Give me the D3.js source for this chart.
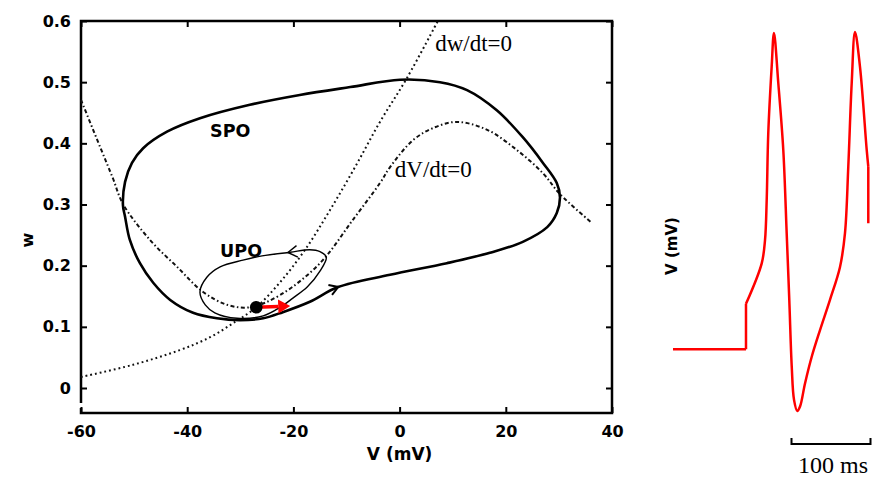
<!DOCTYPE html>
<html>
<head>
<meta charset="utf-8">
<script src="https://cdn.jsdelivr.net/npm/d3@7"></script>
<style>
  body { margin: 0; background: #fff; }
  svg { display: block; }
</style>
</head>
<body>
<div id="chart"></div>
<script>
// axis ticks of the phase plane
const vTicks = [-60, -40, -20, 0, 20, 40];
const wTicks = [0, 0.1, 0.2, 0.3, 0.4, 0.5, 0.6];

// stable periodic orbit, [V (mV), w]
const spo = [
  [-52.1, 0.299], [-51.7, 0.337], [-50.4, 0.368], [-48.3, 0.392], [-43.8, 0.419],
  [-37.6, 0.441], [-28.2, 0.463], [-18.8, 0.479], [-9.3, 0.492], [0.1, 0.504],
  [7.6, 0.500], [12.7, 0.487], [18.3, 0.454], [23.2, 0.410], [27.0, 0.368],
  [29.6, 0.335], [30.2, 0.312], [29.6, 0.286], [27.8, 0.263], [23.2, 0.239],
  [17.0, 0.221], [8.9, 0.204], [-1.8, 0.185], [-11.6, 0.165], [-16.9, 0.141],
  [-22.0, 0.124], [-25.7, 0.114], [-30.1, 0.111], [-34.4, 0.114], [-38.9, 0.123],
  [-43.2, 0.144], [-46.4, 0.172], [-48.9, 0.204], [-50.8, 0.242], [-51.7, 0.280]
];

// unstable periodic orbit, [V (mV), w]
const upo = [
  [-13.8, 0.214], [-15.0, 0.223], [-16.9, 0.226], [-20.6, 0.222], [-25.9, 0.216],
  [-29.5, 0.209], [-33.8, 0.198], [-36.3, 0.181], [-37.6, 0.157], [-36.6, 0.136],
  [-34.8, 0.123], [-30.6, 0.114], [-25.7, 0.118], [-22.5, 0.132], [-20.1, 0.147],
  [-17.4, 0.165], [-15.0, 0.191]
];

// dV/dt = 0 nullcline
const vNullcline = [
  [-60.0, 0.471], [-56.4, 0.394], [-54.0, 0.343], [-52.1, 0.301], [-47.0, 0.242],
  [-41.9, 0.198], [-37.0, 0.157], [-32.5, 0.136], [-28.2, 0.132], [-22.5, 0.152],
  [-15.0, 0.204], [-8.8, 0.275], [-3.7, 0.335], [-1.8, 0.361], [2.5, 0.405],
  [6.3, 0.425], [10.8, 0.435], [16.5, 0.422], [22.1, 0.389], [27.0, 0.351],
  [30.2, 0.317], [36.2, 0.270]
];

// dw/dt = 0 nullcline
const wNullcline = [
  [-60.0, 0.018], [-50.2, 0.038], [-41.4, 0.062], [-35.7, 0.083], [-31.0, 0.108],
  [-27.0, 0.132], [-22.5, 0.173], [-17.8, 0.226], [-13.1, 0.291], [-8.4, 0.361],
  [-3.7, 0.435], [1.4, 0.507], [7.2, 0.600]
];

const restPoint = [-27.0, 0.132];
const kickTip = [-20.6, 0.134];

// voltage trace, [t (ms), V]
const trace = [
  [0, -36.1], [92.4, -36.1], [92.4, -25.9], [112.3, -16.8], [116.5, -11.5],
  [118.6, -2.6], [120.6, 12.5], [124.9, 27.4], [127.8, 35.0], [133.3, 23.7],
  [139.6, 8.7], [143.9, -10.0], [147.2, -25.0], [150.3, -40.0], [153.2, -47.5],
  [157.3, -50.0], [160.8, -49.0], [167.1, -43.8], [175.6, -37.8], [186.1, -31.8],
  [198.7, -25.0], [211.4, -17.6], [217.7, -10.0], [221.9, 5.0], [226.2, 23.7],
  [230.4, 35.2], [236.7, 27.4], [245.2, 8.7], [247.2, 5.0], [247.2, -7.8]
];
// indices where the trace has a sharp corner (current step, end of record)
const traceCorners = [1, 2, 28];
const scaleBar = [150, 250];

const width = 878, height = 479;
const x = d3.scaleLinear().domain([-60, 40]).range([81, 612]);
const y = d3.scaleLinear().domain([0, 0.6]).range([388, 21]);
const frameBottom = 413;

const tx = d3.scaleLinear().domain([0, 250]).range([673, 870.5]);
const ty = d3.scaleLinear().domain([-50, 35]).range([411, 33]);

const boldFont = "'DejaVu Sans', sans-serif";
const serifFont = "'Liberation Serif', 'DejaVu Serif', serif";

const svg = d3.select("#chart")
  .append("svg")
  .attr("width", width)
  .attr("height", height);

// axes, ticks pointing inwards
const styleAxis = g => {
  g.select(".domain").remove();
  g.selectAll(".tick line").attr("stroke", "#000").attr("stroke-width", 2);
  g.selectAll(".tick text")
    .attr("fill", "#000")
    .attr("font-family", boldFont)
    .attr("font-weight", "bold")
    .attr("font-size", 16);
};

svg.append("g")
  .attr("transform", `translate(0,${frameBottom})`)
  .call(d3.axisBottom(x).tickValues(vTicks).tickSizeInner(-6).tickSizeOuter(0)
    .tickPadding(13).tickFormat(d => String(d)))
  .call(styleAxis);

svg.append("g")
  .attr("transform", `translate(0,${y(0.6)})`)
  .call(d3.axisTop(x).tickValues(vTicks).tickSizeInner(-6).tickSizeOuter(0).tickFormat(""))
  .call(styleAxis);

svg.append("g")
  .attr("transform", `translate(${x(-60)},0)`)
  .call(d3.axisLeft(y).tickValues(wTicks).tickSizeInner(-6).tickSizeOuter(0)
    .tickPadding(10).tickFormat(d => d === 0 ? "0" : d3.format(".1f")(d)))
  .call(styleAxis);

svg.append("g")
  .attr("transform", `translate(${x(40)},0)`)
  .call(d3.axisRight(y).tickValues(wTicks).tickSizeInner(-6).tickSizeOuter(0).tickFormat(""))
  .call(styleAxis);

// frame (left side has a small break near the corner, like the scan)
const frame = d3.path();
frame.moveTo(x(-60), frameBottom - 10);
frame.lineTo(x(-60), y(0.6));
frame.lineTo(x(40), y(0.6));
frame.lineTo(x(40), frameBottom);
frame.lineTo(x(-60), frameBottom);
frame.lineTo(x(-60), frameBottom - 5);
svg.append("path")
  .attr("d", frame.toString())
  .attr("fill", "none")
  .attr("stroke", "#000")
  .attr("stroke-width", 2.5);

// axis titles (the V label sits under the 0 tick in the original)
svg.append("text")
  .attr("x", x(0))
  .attr("y", 460)
  .attr("text-anchor", "middle")
  .attr("font-family", boldFont)
  .attr("font-weight", "bold")
  .attr("font-size", 17)
  .text("V (mV)");

svg.append("text")
  .attr("transform", "translate(33,240) rotate(-90)")
  .attr("text-anchor", "middle")
  .attr("font-family", boldFont)
  .attr("font-weight", "bold")
  .attr("font-size", 16)
  .text("w");

// nullclines
const openLine = d3.line()
  .x(d => x(d[0]))
  .y(d => y(d[1]))
  .curve(d3.curveCatmullRom.alpha(0.5));

svg.append("path")
  .attr("d", openLine(vNullcline))
  .attr("fill", "none")
  .attr("stroke", "#111")
  .attr("stroke-width", 2)
  .attr("stroke-dasharray", "4,2.5,1.5,2.5");

svg.append("path")
  .attr("d", openLine(wNullcline))
  .attr("fill", "none")
  .attr("stroke", "#111")
  .attr("stroke-width", 2)
  .attr("stroke-dasharray", "1.8,3");

// periodic orbits
const closedLine = d3.line()
  .x(d => x(d[0]))
  .y(d => y(d[1]))
  .curve(d3.curveCatmullRomClosed.alpha(0.5));

const spoPath = svg.append("path")
  .attr("d", closedLine(spo))
  .attr("fill", "none")
  .attr("stroke", "#000")
  .attr("stroke-width", 2.6);

const upoPath = svg.append("path")
  .attr("d", closedLine(upo))
  .attr("fill", "none")
  .attr("stroke", "#000")
  .attr("stroke-width", 1.4);

// open arrow head sitting on a path, near a point given in data units
function chevron(pathSel, target, dir, len, width) {
  const node = pathSel.node();
  const total = node.getTotalLength();
  const tp = [x(target[0]), y(target[1])];
  let best = 0, bestD = Infinity;
  for (let l = 0; l <= total; l += 0.5) {
    const p = node.getPointAtLength(l);
    const d = (p.x - tp[0]) ** 2 + (p.y - tp[1]) ** 2;
    if (d < bestD) { bestD = d; best = l; }
  }
  const p0 = node.getPointAtLength(Math.max(best - 2, 0));
  const p1 = node.getPointAtLength(Math.min(best + 2, total));
  let ang = Math.atan2(p1.y - p0.y, p1.x - p0.x);
  if (dir < 0) ang += Math.PI;
  const tip = node.getPointAtLength(best);
  const spread = 0.55;
  const a1 = ang + Math.PI - spread, a2 = ang + Math.PI + spread;
  svg.append("path")
    .attr("d", `M${tip.x + len * Math.cos(a1)},${tip.y + len * Math.sin(a1)}` +
      `L${tip.x},${tip.y}L${tip.x + len * Math.cos(a2)},${tip.y + len * Math.sin(a2)}`)
    .attr("fill", "none")
    .attr("stroke", "#000")
    .attr("stroke-width", width);
}

chevron(upoPath, [-21.0, 0.222], 1, 11, 1.4);
chevron(spoPath, [-11.6, 0.165], -1, 10, 2);

// stable rest point and the red kick
const kx0 = x(restPoint[0]), ky0 = y(restPoint[1]);
const kx1 = x(kickTip[0]), ky1 = y(kickTip[1]);
const kAng = Math.atan2(ky1 - ky0, kx1 - kx0);
const headLen = 12, headHalf = 7;
const bx = kx1 - headLen * Math.cos(kAng), by = ky1 - headLen * Math.sin(kAng);

svg.append("line")
  .attr("x1", kx0).attr("y1", ky0)
  .attr("x2", bx).attr("y2", by)
  .attr("stroke", "#ff0000")
  .attr("stroke-width", 3.5);

svg.append("path")
  .attr("d", `M${kx1},${ky1}` +
    `L${bx - headHalf * Math.sin(kAng)},${by + headHalf * Math.cos(kAng)}` +
    `L${bx + headHalf * Math.sin(kAng)},${by - headHalf * Math.cos(kAng)}Z`)
  .attr("fill", "#ff0000");

svg.append("circle")
  .attr("cx", kx0)
  .attr("cy", ky0)
  .attr("r", 6.3)
  .attr("fill", "#000");

// curve labels
const labels = [
  { text: "SPO", at: [-35.7, 0.410], font: boldFont, weight: "bold", size: 17.5 },
  { text: "UPO", at: [-33.8, 0.214], font: boldFont, weight: "bold", size: 17.5 },
  { text: "dw/dt=0", at: [6.7, 0.551], font: serifFont, weight: "normal", size: 23 },
  { text: "dV/dt=0", at: [-0.9, 0.345], font: serifFont, weight: "normal", size: 23 }
];

svg.selectAll(".curve-label")
  .data(labels)
  .enter()
  .append("text")
  .attr("class", "curve-label")
  .attr("x", d => x(d.at[0]))
  .attr("y", d => y(d.at[1]))
  .attr("font-family", d => d.font)
  .attr("font-weight", d => d.weight)
  .attr("font-size", d => d.size)
  .text(d => d.text);

// voltage trace on the right: smooth between corners, straight at corners
const traceLine = d3.line()
  .x(d => tx(d[0]))
  .y(d => ty(d[1]))
  .curve(d3.curveCatmullRom.alpha(0.5));

const cuts = [0, ...traceCorners, trace.length - 1];
const tracePieces = d3.pairs(cuts).map(([a, b]) => trace.slice(a, b + 1));

svg.append("path")
  .attr("d", tracePieces.map(p => traceLine(p)).join(""))
  .attr("fill", "none")
  .attr("stroke", "#ff0000")
  .attr("stroke-width", 2.5)
  .attr("stroke-linejoin", "round");

svg.append("text")
  .attr("transform", "translate(677,246) rotate(-90)")
  .attr("text-anchor", "middle")
  .attr("font-family", boldFont)
  .attr("font-weight", "bold")
  .attr("font-size", 15)
  .text("V (mV)");

// 100 ms scale bar
const barY = 444;
svg.append("path")
  .attr("d", `M${tx(scaleBar[0])},${barY - 6}V${barY}H${tx(scaleBar[1])}V${barY - 6}`)
  .attr("fill", "none")
  .attr("stroke", "#000")
  .attr("stroke-width", 2);

svg.append("text")
  .attr("x", tx((scaleBar[0] + scaleBar[1]) / 2) + 2)
  .attr("y", 473)
  .attr("text-anchor", "middle")
  .attr("font-family", serifFont)
  .attr("font-size", 24)
  .text("100 ms");
</script>
</body>
</html>
